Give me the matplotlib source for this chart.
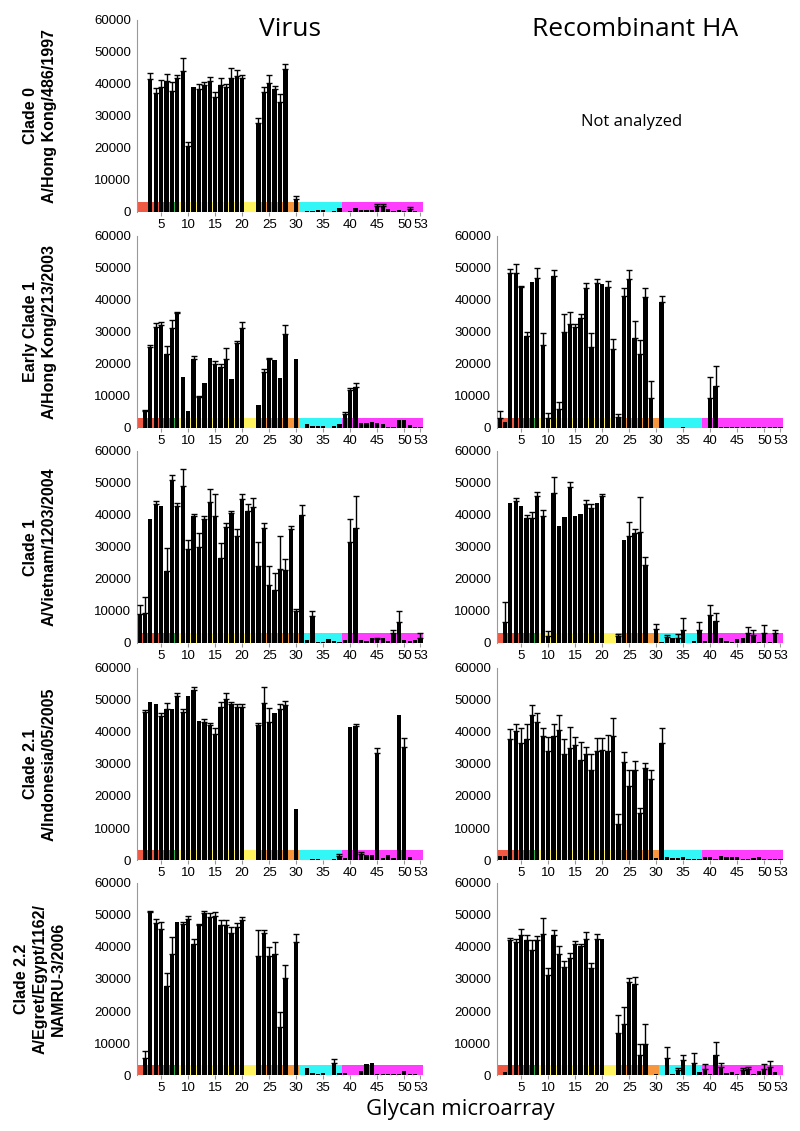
import numpy as np
import matplotlib.pyplot as plt

plt.rcParams['font.family'] = ['Liberation Sans', 'DejaVu Sans']

glycans = np.arange(1, 54)
tick_pos = [5, 10, 15, 20, 25, 30, 35, 40, 45, 50, 53]
y_ticks = [0, 10000, 20000, 30000, 40000, 50000, 60000]

row_labels = ["Clade 0\nA/Hong Kong/486/1997",
              "Early Clade 1\nA/Hong Kong/213/2003",
              "Clade 1\nA/Vietnam/1203/2004",
              "Clade 2.1\nA/Indonesia/05/2005",
              "Clade 2.2\nA/Egret/Egypt/1162/\nNAMRU-3/2006"]

# glycan class bands (start, end, colour)
band_start = [0.5, 6.5, 7.5, 22.5, 30.5, 38.5]
band_end = [6.5, 7.5, 22.5, 30.5, 38.5, 53.5]
band_colors = ['#F05A44', '#2DB34A', '#FFF35F', '#F7963C', '#33F6F6', '#FF3DFF']
band_height = 3200

# Clade 0 virus
v0 = [0, 0, 41500, 37300, 39000, 40800, 37900, 41900, 44000, 20600,
      39100, 38300, 39600, 40900, 35900, 39800, 39100, 41700, 42500, 41900,
      0, 0, 27900, 37500, 40400, 38300, 34400, 44800, 0, 4000,
      0, 400, 300, 500, 700, 0, 300, 1300, 0, 200,
      1300, 500, 700, 700, 2000, 2000, 900, 300, 700, 200,
      1000, 400, 0]
v0_err = [0, 0, 1800, 1400, 2300, 2200, 2600, 900, 4000, 1300,
          0, 1600, 900, 1300, 1600, 2100, 900, 3200, 1800, 1000,
          0, 0, 1600, 1400, 2300, 900, 2600, 1400, 0, 900,
          0, 0, 0, 0, 0, 0, 0, 0, 0, 0,
          0, 0, 0, 0, 600, 600, 0, 0, 0, 0,
          400, 0, 0]

# Early clade 1 virus / HA
v1e = [0, 5200, 25300, 31500, 32300, 23100, 31300, 35900, 15800, 5400,
       21700, 9800, 14200, 22000, 19900, 19100, 21500, 15300, 26700, 31200,
       0, 0, 7200, 17600, 21500, 21200, 15700, 29500, 0, 21400,
       0, 1200, 500, 500, 600, 0, 500, 1100, 4300, 11900,
       12900, 1500, 1400, 1800, 1700, 1300, 300, 300, 2400, 2500,
       800, 200, 200]
v1e_err = [0, 300, 500, 1200, 800, 2600, 2300, 400, 0, 0,
           900, 200, 0, 0, 1100, 800, 3500, 0, 400, 1900,
           0, 0, 0, 700, 300, 0, 0, 2700, 0, 0,
           0, 0, 0, 0, 0, 0, 0, 0, 700, 500,
           1000, 0, 0, 0, 0, 0, 0, 0, 0, 0,
           0, 0, 0]
r1e = [3100, 1900, 48300, 48300, 43900, 28700, 45700, 46800, 25800, 3100,
       47600, 6000, 29900, 32600, 31600, 34400, 43800, 25300, 45200, 44900,
       43900, 24800, 3300, 41100, 46600, 28100, 23200, 41000, 9300, 0,
       39300, 100, 100, 100, 200, 100, 100, 100, 100, 9300,
       13200, 200, 200, 200, 200, 200, 200, 200, 200, 300,
       200, 200, 200]
r1e_err = [2300, 0, 1300, 2800, 600, 1200, 0, 3100, 3900, 1700,
           1900, 2000, 5700, 3500, 1000, 1300, 1600, 4500, 1300, 0,
           1900, 3000, 1000, 2600, 2600, 5400, 4200, 2600, 5400, 0,
           1800, 0, 0, 0, 0, 0, 0, 0, 0, 6700,
           6300, 0, 0, 0, 0, 0, 0, 0, 0, 0,
           0, 0, 0]

# Clade 1 virus / HA
v1 = [9200, 9400, 38800, 43400, 42900, 22600, 51000, 42700, 49000, 29400,
      39800, 30000, 38800, 44000, 39800, 26400, 36300, 40600, 33500, 45000,
      41100, 42400, 24000, 35900, 18200, 16700, 23200, 22700, 35600, 9900,
      39900, 1000, 8300, 300, 200, 1300, 600, 400, 1000, 31700,
      36000, 800, 600, 1500, 1100, 1500, 500, 3100, 6600, 1000,
      600, 800, 1600]
v1_err = [2600, 5000, 0, 1000, 0, 7000, 1600, 1100, 5500, 2900,
          500, 4400, 800, 4000, 6600, 4900, 1200, 700, 2000, 1600,
          2300, 3000, 7400, 1700, 5900, 5200, 10100, 3400, 1100, 700,
          3100, 0, 1800, 0, 0, 0, 0, 0, 0, 6900,
          10000, 0, 0, 0, 600, 0, 0, 1000, 3300, 0,
          0, 0, 1500]
r1 = [0, 6500, 43700, 44500, 42700, 39000, 38900, 45800, 39600, 2300,
      46900, 36700, 39300, 48800, 39800, 40400, 43400, 42100, 43700, 45800,
      0, 0, 2100, 32300, 33500, 34400, 34600, 24400, 0, 4500,
      200, 1800, 1600, 1700, 4200, 0, 700, 4200, 500, 8700,
      6800, 1400, 600, 400, 1100, 1500, 3000, 2600, 300, 3100,
      300, 3000, 0]
r1_err = [0, 6200, 0, 700, 0, 1100, 2000, 1300, 2100, 1500,
          4900, 0, 0, 1600, 0, 0, 1200, 1300, 0, 600,
          0, 0, 600, 0, 4400, 1200, 11000, 2400, 0, 1400,
          0, 800, 0, 1000, 3600, 0, 0, 2300, 0, 3100,
          2600, 0, 0, 0, 0, 0, 1900, 1600, 0, 2600,
          0, 1000, 0]

# Clade 2.1 virus / HA
v21 = [0, 46100, 49500, 48700, 45000, 47100, 47300, 51300, 46300, 51300,
       53000, 43500, 43000, 42100, 39300, 47800, 50200, 48700, 47900, 47900,
       0, 0, 42100, 48900, 43000, 45900, 47100, 48300, 0, 16000,
       0, 0, 300, 300, 0, 0, 400, 1200, 500, 41600,
       41900, 2000, 1500, 1500, 33400, 500, 1600, 500, 45300, 35200,
       1000, 0, 0]
v21_err = [0, 700, 0, 0, 1000, 2100, 0, 800, 800, 0,
           1200, 0, 1000, 600, 1900, 1600, 2100, 700, 900, 900,
           0, 0, 600, 5000, 4400, 0, 1600, 1300, 0, 0,
           0, 0, 0, 0, 0, 0, 0, 800, 0, 0,
           500, 500, 0, 0, 1500, 0, 0, 0, 0, 2800,
           0, 0, 0]
r21 = [1300, 1300, 37800, 40200, 36600, 37800, 45300, 43100, 38800, 34000,
       38800, 40700, 33100, 35000, 35900, 31400, 33100, 28000, 34200, 34400,
       34200, 38800, 11400, 30500, 23000, 28100, 14800, 28800, 25400, 500,
       36500, 1000, 500, 500, 800, 300, 300, 300, 900, 800,
       300, 1400, 1000, 900, 800, 300, 300, 700, 800, 200,
       200, 200, 300]
r21_err = [0, 0, 3100, 2300, 4600, 4700, 3100, 2800, 2400, 4400,
           3700, 4500, 4700, 6500, 2400, 5500, 2100, 5100, 3900, 3600,
           4800, 5600, 3000, 3400, 5200, 2900, 1600, 1400, 2600, 0,
           4600, 0, 0, 0, 0, 0, 0, 0, 0, 0,
           0, 0, 0, 0, 0, 0, 0, 0, 0, 0,
           0, 0, 0]

# Clade 2.2 virus / HA
v22 = [0, 5400, 50800, 47600, 45500, 27800, 37700, 47800, 47300, 48800,
       41000, 46800, 50500, 49300, 49800, 46800, 46800, 44400, 46200, 48500,
       0, 0, 37200, 44400, 37100, 37900, 15100, 30400, 0, 41600,
       0, 2300, 700, 300, 700, 0, 3600, 500, 500, 0,
       0, 1400, 3300, 3800, 300, 300, 300, 300, 300, 1200,
       300, 300, 0]
v22_err = [0, 2200, 500, 1000, 2200, 4100, 5400, 0, 500, 800,
           1600, 500, 600, 1300, 1200, 1500, 1500, 1800, 1400, 1000,
           0, 0, 8000, 1000, 2900, 3600, 4700, 3900, 0, 2400,
           0, 0, 0, 0, 0, 0, 1300, 0, 0, 0,
           0, 0, 0, 0, 0, 0, 0, 0, 0, 0,
           0, 0, 0]
r22 = [0, 900, 42100, 41600, 43600, 42100, 39000, 42300, 44200, 31400,
       43900, 37900, 33800, 36700, 40800, 40300, 42400, 33500, 42400, 42400,
       0, 0, 13000, 15800, 29100, 28400, 6200, 9700, 0, 300,
       0, 5200, 300, 1500, 4700, 0, 3800, 1000, 2000, 200,
       6200, 2600, 600, 900, 200, 1500, 1800, 200, 1200, 2000,
       2600, 900, 0]
r22_err = [0, 0, 800, 1000, 2100, 1800, 3300, 1000, 4800, 1900,
           1300, 2300, 1800, 1500, 1000, 700, 2300, 1400, 1600, 0,
           0, 0, 5700, 5300, 1200, 2300, 3500, 6100, 0, 0,
           0, 3600, 0, 600, 1600, 0, 3100, 0, 1400, 0,
           4000, 1000, 0, 0, 0, 600, 600, 0, 0, 1400,
           1800, 0, 0]

panels = [
    [(v0, v0_err), None],
    [(v1e, v1e_err), (r1e, r1e_err)],
    [(v1, v1_err), (r1, r1_err)],
    [(v21, v21_err), (r21, r21_err)],
    [(v22, v22_err), (r22, r22_err)],
]

fig = plt.figure(figsize=(8, 11.31), dpi=100)

col_left = [0.171, 0.621]
ax_w = 0.358
ax_h = 0.1698
row_bottom = [0.8126, 0.6216, 0.4315, 0.2396, 0.0495]


def draw_panel(ax, vals, errs):
    vals = np.array(vals, dtype=float)
    errs = np.array(errs, dtype=float)
    for s, e, c in zip(band_start, band_end, band_colors):
        ax.broken_barh([(s, e - s)], (0, band_height), facecolors=c, zorder=1)
    ax.bar(glycans, vals, width=0.8, color='black', zorder=2)
    m = errs > 0
    ax.errorbar(glycans[m], vals[m], yerr=[np.zeros(m.sum()), errs[m]],
                fmt='none', ecolor='black', elinewidth=1, capsize=2,
                capthick=1, zorder=3)
    ax.set_xlim(0.5, 53.5)
    ax.set_ylim(0, 60000)
    ax.set_xticks(tick_pos)
    ax.set_yticks(y_ticks)
    ax.tick_params(axis='x', length=3, color='#999999', labelsize=9.5, pad=2)
    ax.tick_params(axis='y', length=0, labelsize=9.5, pad=4)
    for side in ['top', 'right', 'bottom']:
        ax.spines[side].set_visible(False)
    ax.spines['left'].set_color('#999999')
    ax.patch.set_alpha(0)


for i, row in enumerate(panels):
    for j, item in enumerate(row):
        if item is None:
            continue
        ax = fig.add_axes([col_left[j], row_bottom[i], ax_w, ax_h])
        draw_panel(ax, item[0], item[1])
    fig.text(0.05, row_bottom[i] + ax_h / 2, row_labels[i], rotation=90,
             ha='center', va='center', fontsize=11.5, fontweight='bold',
             multialignment='center', linespacing=1.3)

fig.text(0.362, 0.974, "Virus", ha='center', va='center', fontsize=19,
         family=['Open Sans', 'DejaVu Sans'])
fig.text(0.794, 0.974, "Recombinant HA", ha='center', va='center', fontsize=19,
         family=['Open Sans', 'DejaVu Sans'])
fig.text(0.79, 0.892, "Not analyzed", ha='center', va='center', fontsize=12,
         family=['Open Sans', 'DejaVu Sans'])
fig.text(0.575, 0.019, "Glycan microarray", ha='center', va='center', fontsize=16,
         family=['Open Sans', 'DejaVu Sans'])

fig.savefig('out.png', dpi=100)
